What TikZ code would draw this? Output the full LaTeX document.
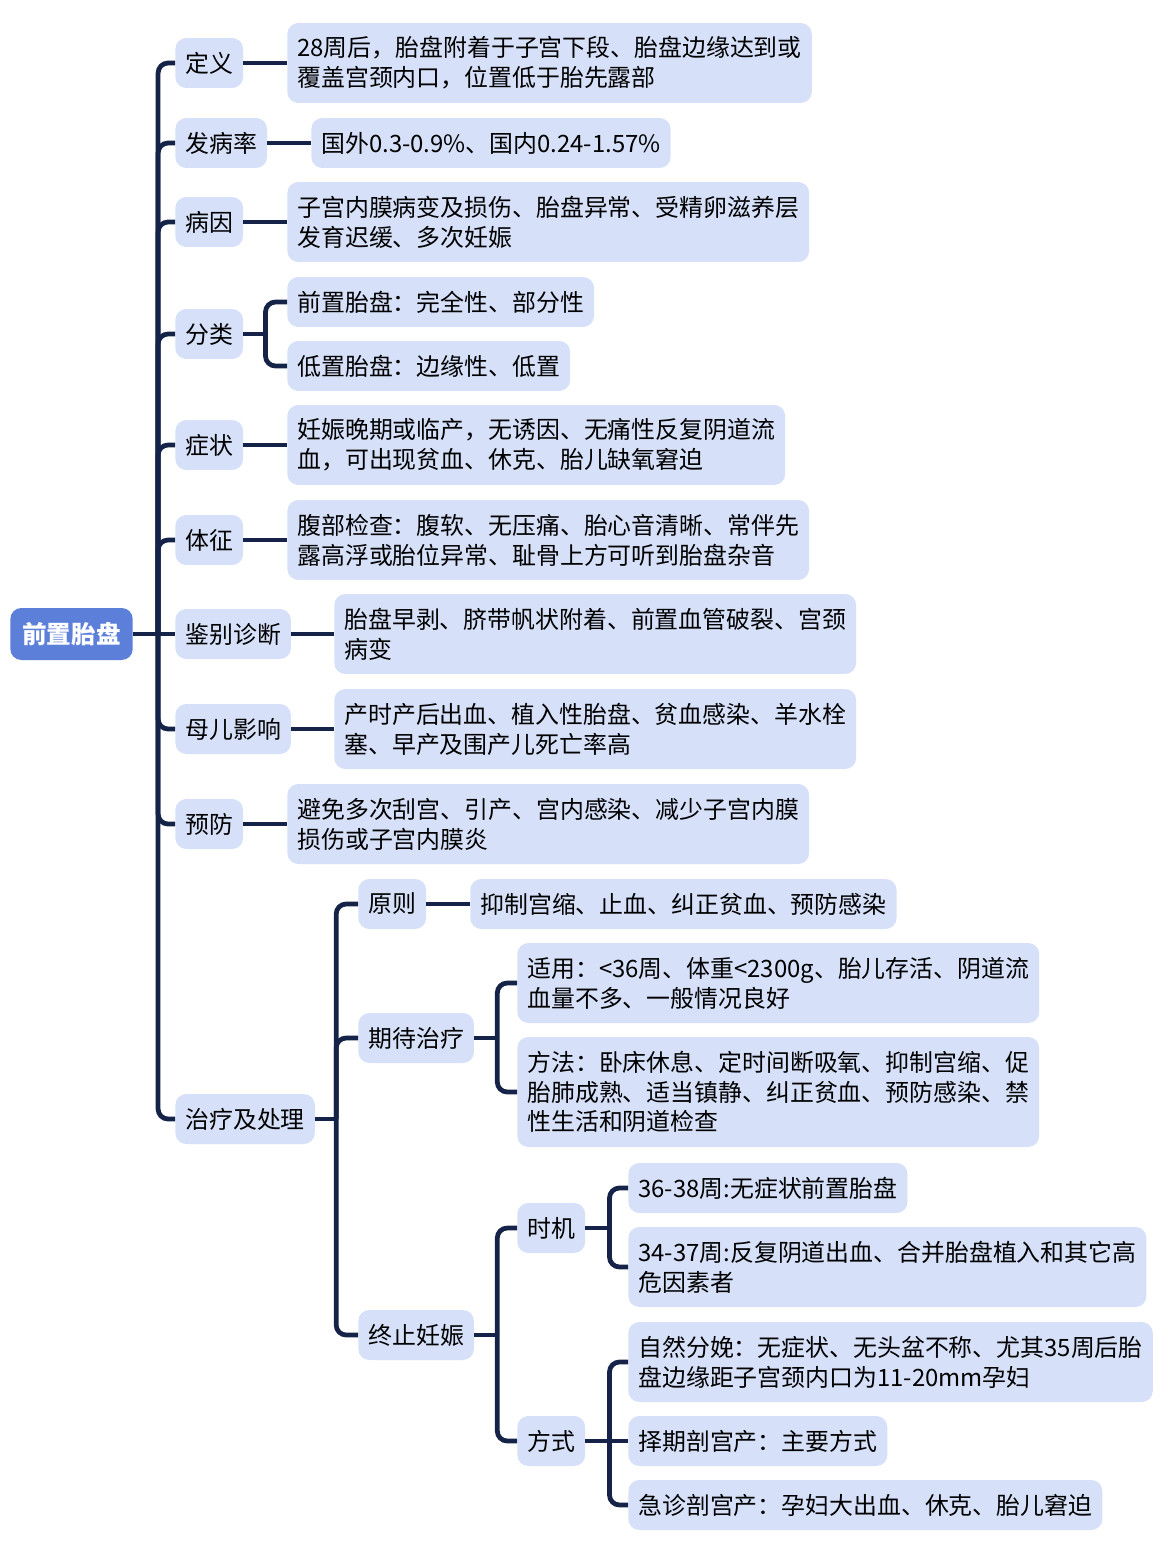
\documentclass[tikz,border=0pt]{standalone}
\usepackage{fontspec}
\setmainfont{Noto Sans CJK SC}
\usetikzlibrary{calc,positioning}
\definecolor{boxblue}{RGB}{214,225,249}
\definecolor{rootblue}{RGB}{92,127,218}
\definecolor{linknavy}{RGB}{22,35,72}

\begin{document}
\begin{tikzpicture}[x=0.02cm,y=-0.02cm,
  every node/.style={font=\fontsize{13.6}{17}\selectfont},
  item/.style={fill=boxblue,rounded corners=0.22cm,inner xsep=0.2cm,inner ysep=0pt,minimum height=1cm,align=left,anchor=west},
  two/.style={item,minimum height=1.6cm},
  three/.style={item,minimum height=2.2cm},
  link/.style={draw=linknavy,line width=2.7pt,rounded corners=0.2cm}]
\useasboundingbox[fill=white] (0,0) rectangle (1169,1551);

\node[fill=rootblue,rounded corners=0.22cm,text=white,font=\fontsize{14}{17}\selectfont\bfseries,inner xsep=0.24cm,minimum height=1.04cm,anchor=west] (root) at (10,634) {前置胎盘};

\node[item] (def) at (175,63) {定义};
\node[item] (inc) at (175,143) {发病率};
\node[item] (cause) at (175,222) {病因};
\node[item] (type) at (175,334) {分类};
\node[item] (symp) at (175,445) {症状};
\node[item] (sign) at (175,540) {体征};
\node[item] (diff) at (175,634) {鉴别诊断};
\node[item] (effect) at (175,729) {母儿影响};
\node[item] (prev) at (175,824) {预防};
\node[item] (treat) at (175,1119) {治疗及处理};

\node[two] (defT) at (287,63) {28周后，胎盘附着于子宫下段、胎盘边缘达到或\\覆盖宫颈内口，位置低于胎先露部};
\node[item] (incT) at (311,143) {国外0.3-0.9\%、国内0.24-1.57\%};
\node[two] (causeT) at (287,222) {子宫内膜病变及损伤、胎盘异常、受精卵滋养层\\发育迟缓、多次妊娠};
\node[item] (full) at (287,302) {前置胎盘：完全性、部分性};
\node[item] (low) at (287,366) {低置胎盘：边缘性、低置};
\node[two] (sympT) at (287,445) {妊娠晚期或临产，无诱因、无痛性反复阴道流\\血，可出现贫血、休克、胎儿缺氧窘迫};
\node[two] (signT) at (287,540) {腹部检查：腹软、无压痛、胎心音清晰、常伴先\\露高浮或胎位异常、耻骨上方可听到胎盘杂音};
\node[two] (diffT) at (334,634) {胎盘早剥、脐带帆状附着、前置血管破裂、宫颈\\病变};
\node[two] (effectT) at (334,729) {产时产后出血、植入性胎盘、贫血感染、羊水栓\\塞、早产及围产儿死亡率高};
\node[two] (prevT) at (287,824) {避免多次刮宫、引产、宫内感染、减少子宫内膜\\损伤或子宫内膜炎};

\node[item] (rule) at (358,904) {原则};
\node[item] (ruleT) at (470,904) {抑制宫缩、止血、纠正贫血、预防感染};
\node[item] (wait) at (358,1038) {期待治疗};
\node[two] (use) at (517,983) {适用：<36周、体重<2300g、胎儿存活、阴道流\\血量不多、一般情况良好};
\node[three] (method) at (517,1092) {方法：卧床休息、定时间断吸氧、抑制宫缩、促\\胎肺成熟、适当镇静、纠正贫血、预防感染、禁\\性生活和阴道检查};
\node[item] (stop) at (358,1335) {终止妊娠};
\node[item] (time) at (517,1228) {时机};
\node[item] (way) at (517,1441) {方式};
\node[item] (t1) at (628,1188) {36-38周:无症状前置胎盘};
\node[two] (t2) at (628,1267) {34-37周:反复阴道出血、合并胎盘植入和其它高\\危因素者};
\node[two] (w1) at (628,1362) {自然分娩：无症状、无头盆不称、尤其35周后胎\\盘边缘距子宫颈内口为11-20mm孕妇};
\node[item] (w2) at (628,1441) {择期剖宫产：主要方式};
\node[item] (w3) at (628,1505) {急诊剖宫产：孕妇大出血、休克、胎儿窘迫};

\coordinate (trunk) at ($(root.east)+(25,0)$);
\coordinate (typeJ) at ($(type.east)+(22,0)$);
\coordinate (treatJ) at ($(treat.east)+(21,0)$);
\coordinate (waitJ) at ($(wait.east)+(23,0)$);
\coordinate (stopJ) at ($(stop.east)+(23,0)$);
\coordinate (timeJ) at ($(time.east)+(24,0)$);
\coordinate (wayJ) at ($(way.east)+(24,0)$);

\draw[link] (root.east) -- (trunk);
\foreach \n in {def,inc,cause,type,symp,sign,effect,prev,treat} \draw[link] (\n.west) -| (trunk);
\draw[link] (trunk) -- (diff.west);
\foreach \a/\b in {def/defT,inc/incT,cause/causeT,symp/sympT,sign/signT,diff/diffT,effect/effectT,prev/prevT,rule/ruleT} \draw[link] (\a.east) -- (\b.west);
\draw[link] (type.east) -- (typeJ);
\foreach \n in {full,low} \draw[link] (\n.west) -| (typeJ);
\draw[link] (treat.east) -- (treatJ);
\foreach \n in {rule,wait,stop} \draw[link] (\n.west) -| (treatJ);
\draw[link] (wait.east) -- (waitJ);
\foreach \n in {use,method} \draw[link] (\n.west) -| (waitJ);
\draw[link] (stop.east) -- (stopJ);
\foreach \n in {time,way} \draw[link] (\n.west) -| (stopJ);
\draw[link] (time.east) -- (timeJ);
\foreach \n in {t1,t2} \draw[link] (\n.west) -| (timeJ);
\draw[link] (way.east) -- (w2.west);
\foreach \n in {w1,w3} \draw[link] (\n.west) -| (wayJ);
\end{tikzpicture}
\end{document}
